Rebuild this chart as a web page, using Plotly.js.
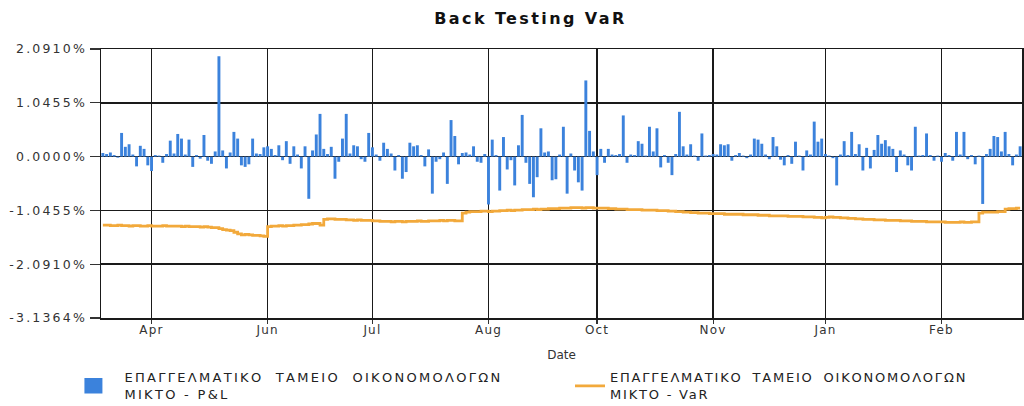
<!DOCTYPE html>
<html>
<head>
<meta charset="utf-8">
<script src="https://cdn.plot.ly/plotly-3.0.1.min.js"></script>
<style>
  html, body { margin: 0; padding: 0; background: #fff; }
  #chart { width: 1024px; height: 406px; }
  .ytick text { letter-spacing: 2.2px; }
  .xtick text { letter-spacing: 1.2px; }
  .gtitle { letter-spacing: 2.4px; }
  .legendtext { letter-spacing: 2.3px; }
  .legend2text { letter-spacing: 1.8px; }
  .legendtext tspan.line:first-child { word-spacing: 6px; }
  .legend2text tspan.line:first-child { word-spacing: 4px; }
</style>
</head>
<body>
<div id="chart"></div>
<script>
// ---- data ----
const startDate = '2017-04-10';
const pnlName = 'ΕΠΑΓΓΕΛΜΑΤΙΚΟ ΤΑΜΕΙΟ ΟΙΚΟΝΟΜΟΛΟΓΩΝ<br>ΜΙΚΤΟ - P&L';
const varName = 'ΕΠΑΓΓΕΛΜΑΤΙΚΟ ΤΑΜΕΙΟ ΟΙΚΟΝΟΜΟΛΟΓΩΝ<br>ΜΙΚΤΟ - VaR';

const pnl = [
  0.07, 0.05, 0.08, 0.03, -0.02, 0.46, 0.19, 0.24, 0.04, -0.19,
  0.21, 0.15, -0.17, -0.28, 0.03, 0.02, -0.12, 0.05, 0.31, 0.06,
  0.44, 0.35, 0.04, 0.33, -0.20, 0.03, -0.04, 0.42, -0.08, -0.14,
  0.10, 1.95, 0.12, -0.23, 0.08, 0.48, 0.35, -0.17, -0.20, -0.15,
  0.35, 0.06, 0.05, 0.18, 0.20, 0.15, 0.03, 0.22, -0.07, 0.30,
  -0.14, 0.20, 0.04, -0.23, 0.20, -0.82, 0.12, 0.43, 0.83, 0.15,
  0.05, 0.19, -0.43, -0.10, 0.35, 0.83, 0.06, 0.22, 0.20, -0.05,
  -0.10, 0.46, 0.18, 0.04, -0.08, 0.27, 0.15, 0.06, -0.27, 0.03,
  -0.43, -0.30, 0.27, 0.20, 0.22, 0.03, -0.19, 0.14, -0.72, -0.10,
  -0.05, 0.08, -0.53, 0.71, 0.40, -0.15, 0.07, 0.08, 0.04, 0.20,
  -0.10, -0.12, 0.05, -0.93, 0.33, 0.03, -0.66, 0.38, -0.25, -0.07,
  -0.56, 0.22, 0.81, -0.12, -0.53, -0.79, -0.40, 0.55, 0.08, 0.10,
  -0.46, -0.44, 0.04, 0.58, -0.72, 0.06, -0.27, -0.50, -0.66, 1.48,
  0.50, 0.10, -0.36, 0.15, -0.12, 0.15, 0.04, 0.03, 0.05, 0.80,
  -0.12, 0.04, 0.03, 0.30, 0.25, 0.02, 0.58, 0.10, 0.55, -0.21,
  0.03, -0.12, -0.36, 0.05, 0.87, 0.20, 0.04, 0.24, 0.02, -0.08,
  0.45, 0.02, 0.03, 0.05, 0.04, 0.24, 0.22, 0.24, -0.08, 0.03,
  0.07, 0.02, -0.03, 0.04, 0.35, 0.33, 0.25, 0.04, -0.05, 0.38,
  0.20, -0.06, -0.17, 0.03, -0.14, 0.29, 0.02, -0.27, 0.12, 0.04,
  0.68, 0.29, 0.35, 0.05, 0.02, -0.03, -0.56, 0.04, 0.30, 0.03,
  0.48, 0.05, 0.24, -0.27, 0.17, -0.23, 0.13, 0.42, 0.25, 0.32,
  0.20, 0.15, -0.30, 0.12, 0.04, -0.17, -0.27, 0.58, 0.02, 0.03,
  0.45, 0.03, -0.08, 0.02, -0.10, 0.07, 0.03, -0.08, 0.48, 0.04,
  0.48, -0.05, 0.03, -0.15, 0.02, -0.92, 0.05, 0.15, 0.40, 0.38,
  0.10, 0.48, 0.05, -0.17, 0.04, 0.20
];

const varValues = [
  -1.33, -1.33, -1.34, -1.34, -1.33, -1.34, -1.34, -1.35, -1.34, -1.34,
  -1.35, -1.35, -1.34, -1.35, -1.35, -1.35, -1.34, -1.35, -1.35, -1.35,
  -1.35, -1.36, -1.35, -1.36, -1.36, -1.36, -1.37, -1.36, -1.37, -1.38,
  -1.38, -1.40, -1.42, -1.43, -1.44, -1.47, -1.50, -1.52, -1.51, -1.52,
  -1.53, -1.53, -1.54, -1.55, -1.36, -1.35, -1.35, -1.34, -1.35, -1.34,
  -1.34, -1.33, -1.33, -1.32, -1.32, -1.31, -1.30, -1.30, -1.33, -1.22,
  -1.21, -1.21, -1.22, -1.22, -1.22, -1.23, -1.23, -1.24, -1.23, -1.24,
  -1.24, -1.24, -1.25, -1.25, -1.26, -1.26, -1.26, -1.27, -1.26, -1.26,
  -1.27, -1.26, -1.26, -1.26, -1.25, -1.26, -1.26, -1.25, -1.25, -1.25,
  -1.24, -1.25, -1.24, -1.24, -1.25, -1.25, -1.10, -1.08, -1.07, -1.07,
  -1.07, -1.06, -1.06, -1.07, -1.06, -1.06, -1.05, -1.05, -1.04, -1.05,
  -1.04, -1.04, -1.03, -1.03, -1.03, -1.02, -1.03, -1.02, -1.02, -1.01,
  -1.01, -1.01, -1.00, -1.00, -1.00, -0.99, -0.99, -0.99, -1.00, -0.99,
  -0.99, -1.00, -1.00, -1.00, -1.00, -1.01, -1.01, -1.02, -1.02, -1.02,
  -1.03, -1.03, -1.03, -1.03, -1.04, -1.04, -1.04, -1.04, -1.05, -1.05,
  -1.05, -1.06, -1.06, -1.07, -1.07, -1.08, -1.08, -1.09, -1.09, -1.10,
  -1.10, -1.10, -1.11, -1.11, -1.11, -1.11, -1.12, -1.12, -1.12, -1.12,
  -1.12, -1.13, -1.13, -1.13, -1.13, -1.14, -1.14, -1.14, -1.15, -1.15,
  -1.15, -1.15, -1.15, -1.16, -1.16, -1.16, -1.16, -1.17, -1.17, -1.17,
  -1.18, -1.18, -1.19, -1.18, -1.17, -1.18, -1.18, -1.19, -1.19, -1.20,
  -1.20, -1.21, -1.21, -1.22, -1.22, -1.22, -1.23, -1.23, -1.23, -1.24,
  -1.24, -1.24, -1.24, -1.25, -1.25, -1.25, -1.26, -1.26, -1.26, -1.26,
  -1.27, -1.27, -1.27, -1.27, -1.27, -1.28, -1.28, -1.28, -1.28, -1.27,
  -1.28, -1.28, -1.27, -1.27, -1.10, -1.08, -1.08, -1.08, -1.08, -1.07,
  -1.07, -1.02, -1.01, -1.01, -1.00, -1.00
];

const yTickVals = [-3.1364, -2.0910, -1.0455, 0, 1.0455, 2.0910];
const yTickLabels = ['-3.1364%', '-2.0910%', '-1.0455%', '0.0000%', '1.0455%', '2.0910%'];
const xTickDates = ['2017-04-27', '2017-06-09', '2017-07-19', '2017-08-31',
                    '2017-10-11', '2017-11-23', '2018-01-04', '2018-02-16'];
const xTickLabels = ['Apr', 'Jun', 'Jul', 'Aug', 'Oct', 'Nov', 'Jan', 'Feb'];

// business-day categories (one per observation)
function businessDays(start, n) {
  const out = [];
  const d = new Date(start + 'T00:00:00Z');
  while (out.length < n) {
    const wd = d.getUTCDay();
    if (wd !== 0 && wd !== 6) out.push(d.toISOString().slice(0, 10));
    d.setUTCDate(d.getUTCDate() + 1);
  }
  return out;
}
const dates = businessDays(startDate, pnl.length);

const FONT = 'DejaVu Sans, Verdana, sans-serif';

const traces = [
  {
    type: 'bar', name: pnlName, x: dates, y: pnl, legend: 'legend',
    marker: { color: '#3b82dc', line: { width: 0 } }
  },
  {
    type: 'scatter', mode: 'lines', name: varName, x: dates, y: varValues, legend: 'legend2',
    line: { color: '#f2a93b', width: 2.8, shape: 'hv' }
  }
];

const axisCommon = {
  showline: true, linecolor: '#1a1a1a', linewidth: 1.5, mirror: true,
  showgrid: true, gridcolor: '#1a1a1a', gridwidth: 1.5,
  ticks: 'outside', tickwidth: 1.2, tickcolor: '#333'
};

const legendCommon = {
  orientation: 'v', xanchor: 'left', yanchor: 'top', y: -0.165,
  font: { family: FONT, size: 13, color: '#222' },
  itemwidth: 30, bgcolor: 'rgba(0,0,0,0)'
};

const layout = {
  width: 1024, height: 406,
  paper_bgcolor: '#ffffff', plot_bgcolor: '#ffffff',
  margin: { l: 101, r: 2, t: 49, b: 88, autoexpand: false },
  title: {
    text: '<b>Back Testing VaR</b>',
    font: { family: FONT, size: 16, color: '#111' },
    x: 0.518, xanchor: 'center', y: 0.955, yanchor: 'middle'
  },
  bargap: 0.22,
  showlegend: true,
  legend: Object.assign({}, legendCommon, { x: -0.018 }),
  legend2: Object.assign({}, legendCommon, { x: (570 - 101) / 921 }),
  xaxis: Object.assign({}, axisCommon, {
    type: 'category',
    range: [-0.5, dates.length - 0.5],
    tickmode: 'array', tickvals: xTickDates, ticktext: xTickLabels,
    ticklen: 4, ticklabelstandoff: -4,
    tickfont: { family: FONT, size: 12, color: '#333' },
    zeroline: false,
    title: { text: 'Date', font: { family: FONT, size: 12, color: '#333' }, standoff: 14 }
  }),
  yaxis: Object.assign({}, axisCommon, {
    range: [-3.1364, 2.0910],
    tickmode: 'array', tickvals: yTickVals, ticktext: yTickLabels,
    ticklen: 10,
    tickfont: { family: FONT, size: 12.5, color: '#333' },
    zeroline: true, zerolinecolor: '#1a1a1a', zerolinewidth: 1.5
  })
};

Plotly.newPlot('chart', traces, layout, { displayModeBar: false, staticPlot: true }).then(function () {
  // enlarge the bar legend swatch to the wide rectangle of the original
  document.querySelectorAll('.legend .legendpoints path').forEach(function (p) {
    p.setAttribute('transform', 'scale(3,1.3)');
  });
});
</script>
</body>
</html>
